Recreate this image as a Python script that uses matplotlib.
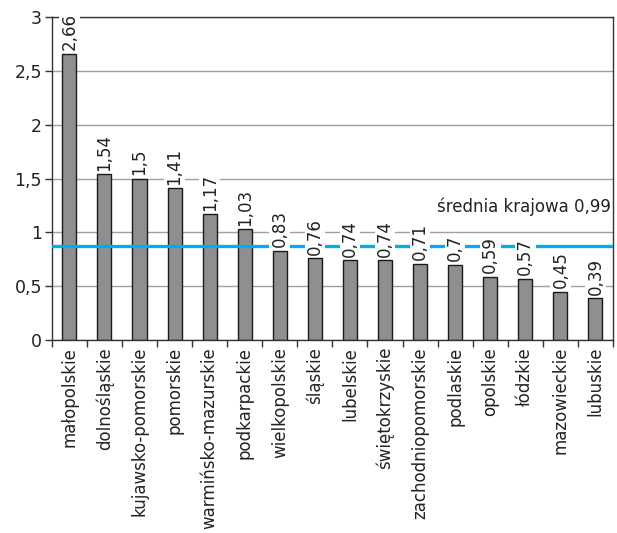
import numpy as np
import matplotlib.pyplot as plt

regions = ['małopolskie', 'dolnośląskie', 'kujawsko-pomorskie', 'pomorskie',
           'warmińsko-mazurskie', 'podkarpackie', 'wielkopolskie', 'śląskie',
           'lubelskie', 'świętokrzyskie', 'zachodniopomorskie', 'podlaskie',
           'opolskie', 'łódzkie', 'mazowieckie', 'lubuskie']
values = [2.66, 1.54, 1.5, 1.41, 1.17, 1.03, 0.83, 0.76,
          0.74, 0.74, 0.71, 0.7, 0.59, 0.57, 0.45, 0.39]
avg_line = 0.87
avg_label = 'średnia krajowa 0,99'

plt.rcParams['font.family'] = ['DejaVu Sans']

fig = plt.figure(figsize=(6.17, 5.33), dpi=100)
ax = fig.add_axes([0.084, 0.362, 0.9095, 0.606])

x = np.arange(len(regions))
ax.bar(x, values, width=0.4, color='#8e8f91', edgecolor='#1a1a1a', linewidth=1, zorder=2)

# blue line goes over the bars, value labels sit on white boxes above it
ax.axhline(avg_line, color='#00aeef', linewidth=2.4, zorder=3)

for xi, v in zip(x, values):
    ax.text(xi, v + 0.03, f'{v:g}'.replace('.', ','), rotation=90,
            ha='center', va='bottom', fontsize=12, color='#222222', zorder=4,
            bbox=dict(facecolor='white', edgecolor='none', pad=1))

ax.text(len(regions) - 0.55, 1.15, avg_label, ha='right', va='bottom',
        fontsize=12, color='#222222')

ax.set_xlim(-0.5, len(regions) - 0.5)
ax.set_ylim(0, 3)
ax.set_yticks([0, 0.5, 1, 1.5, 2, 2.5, 3])
ax.set_yticklabels(['0', '0,5', '1', '1,5', '2', '2,5', '3'], fontsize=12.5, color='#222222')
ax.yaxis.grid(True, color='#a0a0a0', linewidth=1, zorder=0)
ax.set_axisbelow(True)

ax.set_xticks(x)
ax.set_xticklabels(regions, rotation=90, fontsize=12, color='#222222')
ax.set_xticks(np.arange(-0.5, len(regions)), minor=True)
ax.tick_params(axis='x', which='major', length=0, pad=5)
ax.tick_params(axis='x', which='minor', length=5, width=1, color='#333333')
ax.tick_params(axis='y', length=5, width=1, color='#333333', pad=2)

for side in ['left', 'right', 'top', 'bottom']:
    ax.spines[side].set_color('#333333')
    ax.spines[side].set_linewidth(1)

fig.savefig('out.png', dpi=100)
